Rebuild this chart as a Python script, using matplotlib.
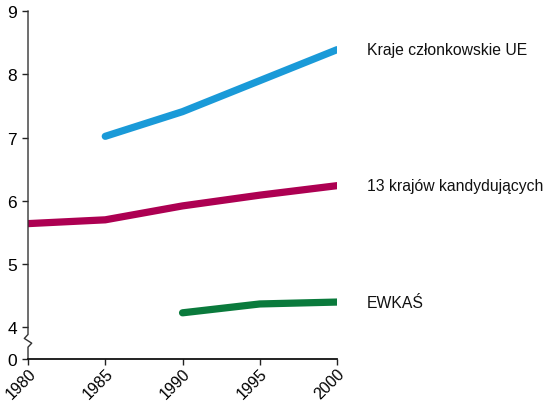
import numpy as np
import matplotlib
matplotlib.use("Agg")
import matplotlib.pyplot as plt

years_eu = [1985, 1990, 1995, 2000]
eu = [7.02, 7.41, 7.90, 8.39]

years_cand = [1980, 1985, 1990, 1995, 2000]
cand = [5.64, 5.70, 5.92, 6.09, 6.24]

years_ewkas = [1990, 1995, 2000]
ewkas = [4.23, 4.37, 4.40]

series_labels = ["Kraje członkowskie UE", "13 krajów kandydujących", "EWKAŚ"]
colors = ["#1a9ad8", "#ad0052", "#0a7a3c"]

x_ticks = [1980, 1985, 1990, 1995, 2000]
y_ticks = [0, 4, 5, 6, 7, 8, 9]


# Broken y scale: 0..4 compressed into half a unit
def fwd(v):
    v = np.asarray(v, dtype=float)
    return np.where(v >= 4, v - 3.5, v * 0.125)


def inv(p):
    p = np.asarray(p, dtype=float)
    return np.where(p >= 0.5, p + 3.5, p * 8.0)


plt.rcParams['font.family'] = ['Liberation Sans', 'DejaVu Sans']
fig = plt.figure(figsize=(5.47, 4.02), dpi=100)
ax = fig.add_axes([0.0512, 0.1045, 0.565, 0.8655])
ax.set_yscale('function', functions=(fwd, inv))

lw = 5.2
for xs, ys, c in zip([years_eu, years_cand, years_ewkas], [eu, cand, ewkas], colors):
    ax.plot(xs, ys, color=c, lw=lw, solid_capstyle='round', solid_joinstyle='round')

ax.set_xlim(1980, 2000)
ax.set_ylim(0, 9)
ax.set_xticks(x_ticks)
ax.set_xticklabels([str(t) for t in x_ticks], rotation=45, ha='right',
                   rotation_mode='anchor', fontsize=11.5)
ax.set_yticks(y_ticks)
ax.set_yticklabels([str(t) for t in y_ticks], fontsize=12.5)
ax.tick_params(axis='both', direction='out', length=4, width=1, color='#222222')
ax.tick_params(axis='y', pad=4)
ax.tick_params(axis='x', pad=0.5)

for s in ['top', 'right', 'left']:
    ax.spines[s].set_visible(False)
ax.spines['bottom'].set_linewidth(1.3)
ax.spines['bottom'].set_color('#111111')

# Left axis with a zigzag break between 0 and 4
tr = ax.get_yaxis_transform()
kw = dict(color='#333333', lw=1.0, transform=tr, clip_on=False)
ax.plot([0, 0, 0.012, -0.012, 0, 0], [0, 1.5, 2.0, 2.6, 3.1, 9], **kw)

# Series labels to the right of the lines
label_y = [eu[-1], cand[-1], ewkas[-1]]
for lab, yv in zip(series_labels, label_y):
    ax.annotate(lab, xy=(2000, yv), xytext=(21.5, 0), textcoords='offset points',
                va='center', ha='left', fontsize=11.3, color='#111111',
                annotation_clip=False)

fig.savefig("out.png", dpi=100)
